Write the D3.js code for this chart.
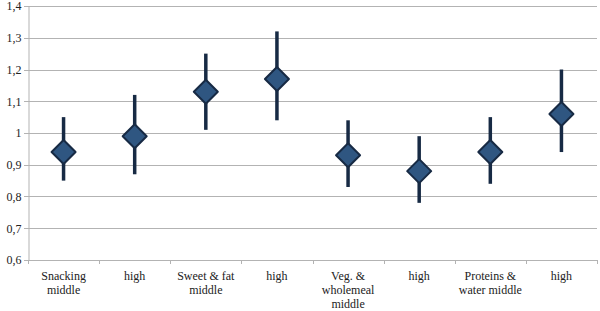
<!DOCTYPE html>
<html>
<head>
<meta charset="utf-8">
<script src="https://cdn.jsdelivr.net/npm/d3@7"></script>
<style>
  body { margin: 0; background: #fff; }
  svg { display: block; }
</style>
</head>
<body>
<svg id="chart"></svg>
<script>
// Catégories (libellés sur plusieurs lignes)
const categories = [
  ["Snacking", "middle"],
  ["high"],
  ["Sweet & fat", "middle"],
  ["high"],
  ["Veg. &", "wholemeal", "middle"],
  ["high"],
  ["Proteins &", "water middle"],
  ["high"]
];
// Valeur centrale et intervalle
const estimate = [0.94, 0.99, 1.13, 1.17, 0.93, 0.88, 0.94, 1.06];
const lower = [0.85, 0.87, 1.01, 1.04, 0.83, 0.78, 0.84, 0.94];
const upper = [1.05, 1.12, 1.25, 1.32, 1.04, 0.99, 1.05, 1.20];
const yTicks = [0.6, 0.7, 0.8, 0.9, 1, 1.1, 1.2, 1.3, 1.4];

const width = 600;
const height = 311;
const font = "'Liberation Serif', 'DejaVu Serif', serif";
const svg = d3.select("#chart").attr("width", width).attr("height", height);

const margin = { top: 6, right: 3, bottom: 51, left: 28 };

const data = categories.map((c, i) => ({
  i, label: c, est: estimate[i], lo: lower[i], hi: upper[i]
}));

const x = d3.scaleBand()
  .domain(data.map((d) => d.i))
  .range([margin.left, width - margin.right]);

const y = d3.scaleLinear()
  .domain([0.6, 1.4])
  .range([height - margin.bottom, margin.top]);

const fmt = (v) => d3.format("~g")(v).replace(".", ",");

// Grille horizontale
svg.append("g")
  .selectAll("line")
  .data(yTicks)
  .join("line")
  .attr("x1", margin.left - 4)
  .attr("x2", width - margin.right)
  .attr("y1", (d) => Math.round(y(d)) + 0.5)
  .attr("y2", (d) => Math.round(y(d)) + 0.5)
  .attr("stroke", "#b3b3b3")
  .attr("stroke-width", 1);

// Axe Y
const yAxis = svg.append("g")
  .attr("transform", `translate(${margin.left + 0.5},0)`)
  .call(d3.axisLeft(y).tickValues(yTicks).tickFormat(fmt).tickSize(0).tickPadding(7));
yAxis.select(".domain").attr("stroke", "#b3b3b3");
yAxis.selectAll("text")
  .style("font-family", font)
  .style("font-size", "12px")
  .attr("fill", "#222");

// Axe X : traits aux limites des catégories
const bounds = d3.range(categories.length + 1).map((k) => margin.left + k * x.bandwidth());
svg.append("g")
  .selectAll("line")
  .data(bounds)
  .join("line")
  .attr("x1", (d) => Math.round(d) + 0.5)
  .attr("x2", (d) => Math.round(d) + 0.5)
  .attr("y1", y(0.6))
  .attr("y2", y(0.6) + 4)
  .attr("stroke", "#b3b3b3");

// Libellés X
const labels = svg.append("g")
  .selectAll("text")
  .data(data)
  .join("text")
  .attr("text-anchor", "middle")
  .style("font-family", font)
  .style("font-size", "12px")
  .attr("fill", "#222")
  .attr("x", (d) => x(d.i) + x.bandwidth() / 2)
  .attr("y", y(0.6) + 20);
labels.selectAll("tspan")
  .data((d) => d.label.map((t) => ({ t, x: x(d.i) + x.bandwidth() / 2 })))
  .join("tspan")
  .attr("x", (d) => d.x)
  .attr("dy", (d, k) => (k === 0 ? 0 : 14))
  .text((d) => d.t);

// Barres d'erreur
svg.append("g")
  .selectAll("line")
  .data(data)
  .join("line")
  .attr("x1", (d) => x(d.i) + x.bandwidth() / 2)
  .attr("x2", (d) => x(d.i) + x.bandwidth() / 2)
  .attr("y1", (d) => y(d.lo))
  .attr("y2", (d) => y(d.hi))
  .attr("stroke", "#172a44")
  .attr("stroke-width", 3.5);

// Losanges
const r = 12;
svg.append("g")
  .selectAll("path")
  .data(data)
  .join("path")
  .attr("transform", (d) => `translate(${x(d.i) + x.bandwidth() / 2},${y(d.est)})`)
  .attr("d", `M0,${-r}L${r},0L0,${r}L${-r},0Z`)
  .attr("fill", "#2f5681")
  .attr("stroke", "#172a44")
  .attr("stroke-width", 2)
  .attr("stroke-linejoin", "round");
</script>
</body>
</html>
